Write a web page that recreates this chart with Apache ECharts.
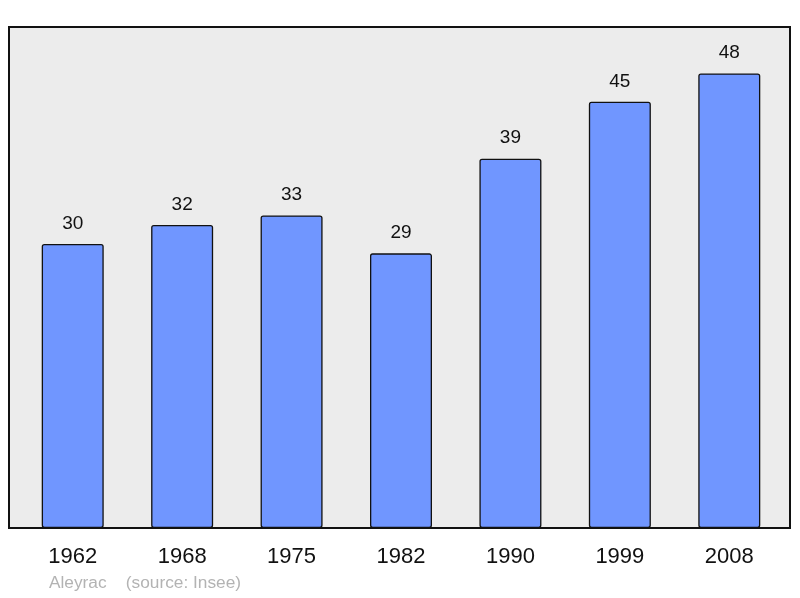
<!DOCTYPE html>
<html><head><meta charset="utf-8">
<script src="https://cdn.jsdelivr.net/npm/echarts@6/dist/echarts.min.js"></script>
<style>html,body{margin:0;padding:0;background:#fff}#c{width:800px;height:598px}</style>
</head><body><div id="c"></div>
<script>
const categories = ['1962','1968','1975','1982','1990','1999','2008'];
const population = [30, 32, 33, 29, 39, 45, 48];
const footer = 'Aleyrac    (source: Insee)';

const chart = echarts.init(document.getElementById('c'));
chart.setOption({
  animation: false,
  grid: [
    {left: 9, top: 27, width: 781, height: 501, show: true, backgroundColor: '#ececec', borderColor: '#111', borderWidth: 2, z: 0},
    {left: 18, top: 27, width: 766, height: 501}
  ],
  xAxis: [
    {gridIndex: 0, type: 'value', show: false},
    {gridIndex: 1, type: 'category', data: categories,
     axisLine: {show: false}, axisTick: {show: false},
     axisLabel: {color: '#111', fontSize: 22, fontFamily: 'Liberation Sans', margin: 18}}
  ],
  yAxis: [
    {gridIndex: 0, type: 'value', show: false},
    {gridIndex: 1, type: 'value', min: 0, max: 52.9, show: false}
  ],
  graphic: [{type: 'text', left: 49, top: 575, style: {text: footer, fill: '#b3b3b3', fontSize: 17.3, fontFamily: 'Liberation Sans'}}],
  series: [{
    type: 'bar', xAxisIndex: 1, yAxisIndex: 1, data: population,
    barWidth: 62,
    itemStyle: {color: '#7096ff', borderColor: '#111', borderWidth: 1.3, borderRadius: 2},
    label: {show: true, position: 'top', distance: 11, color: '#111', fontSize: 19, fontFamily: 'Liberation Sans'}
  }]
});
</script></body></html>
